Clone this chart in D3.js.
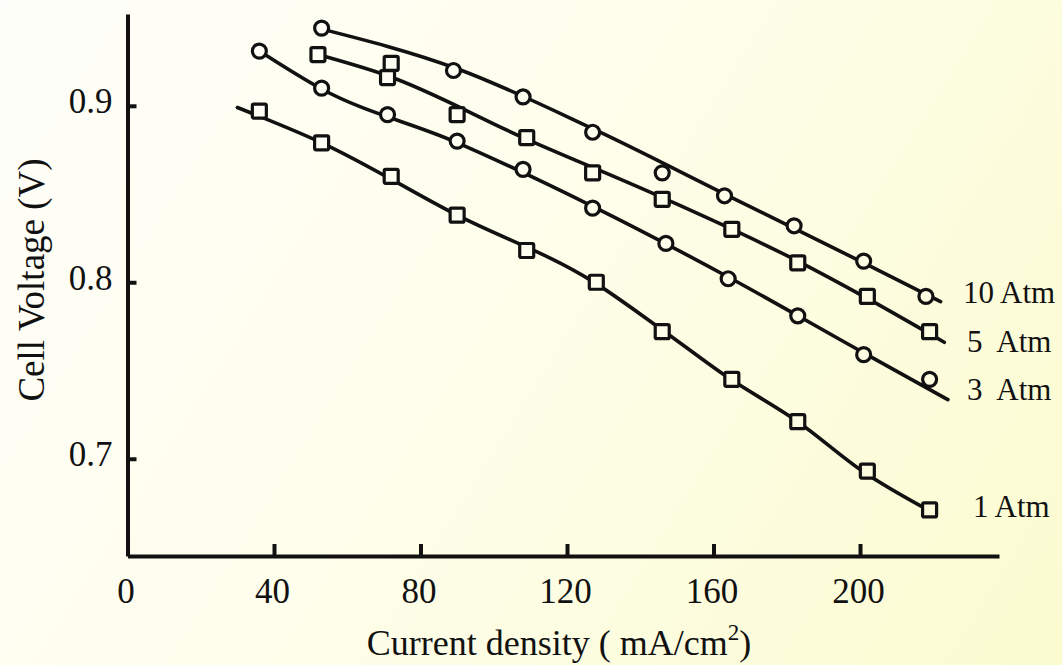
<!DOCTYPE html>
<html>
<head>
<meta charset="utf-8">
<script src="https://cdn.jsdelivr.net/npm/d3@7"></script>
<style>
  html, body { margin: 0; padding: 0; background: #fefef6; }
  svg { display: block; font-family: "Liberation Serif", "Times New Roman", serif; }
</style>
</head>
<body>
<svg id="chart" width="1062" height="665"></svg>
<script>
// measured points (x: mA/cm2, y: V)
const j10 = [53, 89, 108, 127, 146, 163, 182, 201, 218];
const v10 = [0.944, 0.920, 0.905, 0.885, 0.862, 0.849, 0.832, 0.812, 0.792];
const j5 = [52, 72, 71, 90, 109, 127, 146, 165, 183, 202, 219];
const v5 = [0.929, 0.924, 0.916, 0.895, 0.882, 0.862, 0.847, 0.830, 0.811, 0.792, 0.772];
const j3 = [36, 53, 71, 90, 108, 127, 147, 164, 183, 201, 219];
const v3 = [0.931, 0.910, 0.895, 0.880, 0.864, 0.842, 0.822, 0.802, 0.781, 0.759, 0.745];
const j1 = [36, 53, 72, 90, 109, 128, 146, 165, 183, 202, 219];
const v1 = [0.897, 0.879, 0.860, 0.838, 0.818, 0.800, 0.772, 0.745, 0.721, 0.693, 0.671];

// fitted curves drawn through the points
const fitJ10 = [52, 90, 127, 164, 201, 222];
const fitV10 = [0.944, 0.921, 0.887, 0.849, 0.811, 0.789];
const fitJ5 = [52, 71, 108, 146, 183, 201, 223];
const fitV5 = [0.929, 0.917, 0.882, 0.848, 0.812, 0.792, 0.766];
const fitJ3 = [36, 53, 89, 127, 164, 201, 224];
const fitV3 = [0.931, 0.9095, 0.880, 0.843, 0.803, 0.760, 0.7335];
const fitJ1 = [30, 53, 90, 127, 146, 164, 183, 201, 219];
const fitV1 = [0.899, 0.879, 0.838, 0.8005, 0.773, 0.746, 0.721, 0.6925, 0.6705];

const seriesNames = ["10 Atm", "5  Atm", "3  Atm", "1 Atm"];
const xTicks = [0, 40, 80, 120, 160, 200];
const yTicks = [0.7, 0.8, 0.9];

const ink = "#111";
const margin = {top: 14, left: 127.5};
const width = 871.5, height = 542;

const svg = d3.select("#chart");
const defs = svg.append("defs");
const grad = defs.append("linearGradient")
    .attr("id", "paper")
    .attr("gradientUnits", "userSpaceOnUse")
    .attr("x1", 0).attr("y1", 0).attr("x2", 1062).attr("y2", 665);
grad.append("stop").attr("offset", "0%").attr("stop-color", "#fefefa");
grad.append("stop").attr("offset", "45%").attr("stop-color", "#fefeec");
grad.append("stop").attr("offset", "100%").attr("stop-color", "#fbfbd0");

svg.append("rect").attr("width", 1062).attr("height", 665).attr("fill", "url(#paper)");

const x = d3.scaleLinear().domain([0, 237.95]).range([0, width]);
const y = d3.scaleLinear().domain([0.6449, 0.952]).range([height, 0]);

const g = svg.append("g").attr("transform", "translate(" + margin.left + "," + margin.top + ")");

// x axis, ticks pointing inward
const xAxis = g.append("g")
    .attr("transform", "translate(0," + height + ")")
    .call(d3.axisBottom(x).tickValues(xTicks).tickSizeInner(-12).tickSizeOuter(0).tickFormat(d3.format("d")));
xAxis.select(".domain").attr("stroke", ink).attr("stroke-width", 4);
xAxis.selectAll(".tick line").attr("stroke", ink).attr("stroke-width", 4)
    .filter(d => d === 0).remove();
xAxis.selectAll(".tick text")
    .attr("y", 47).attr("dy", 0).attr("dx", -2)
    .style("font-size", "35px").style("font-family", "Liberation Serif").attr("fill", ink);

// y axis
const yAxis = g.append("g")
    .call(d3.axisLeft(y).tickValues(yTicks).tickSizeInner(-9).tickSizeOuter(0).tickFormat(d3.format(".1f")));
yAxis.select(".domain").attr("stroke", ink).attr("stroke-width", 4);
yAxis.selectAll(".tick line").attr("stroke", ink).attr("stroke-width", 4);
yAxis.selectAll(".tick text")
    .attr("x", -15).attr("dy", 0).attr("y", 7)
    .style("font-size", "35px").style("font-family", "Liberation Serif").attr("fill", ink);

const line = d3.line().x(d => x(d[0])).y(d => y(d[1])).curve(d3.curveMonotoneX);

const fits = [[fitJ10, fitV10], [fitJ5, fitV5], [fitJ3, fitV3], [fitJ1, fitV1]];
fits.forEach(f => {
  g.append("path")
    .datum(d3.zip(f[0], f[1]))
    .attr("d", line)
    .attr("fill", "none")
    .attr("stroke", ink)
    .attr("stroke-width", 3.6)
    .attr("stroke-linecap", "round");
});

const pts = [
  {j: j10, v: v10, shape: "circle"},
  {j: j5, v: v5, shape: "square"},
  {j: j3, v: v3, shape: "circle"},
  {j: j1, v: v1, shape: "square"}
];
pts.forEach(s => {
  const data = d3.zip(s.j, s.v);
  if (s.shape === "circle") {
    g.selectAll(null).data(data).enter().append("circle")
      .attr("cx", d => x(d[0])).attr("cy", d => y(d[1])).attr("r", 7)
      .attr("fill", "url(#paper)").attr("stroke", ink).attr("stroke-width", 3.2);
  } else {
    g.selectAll(null).data(data).enter().append("rect")
      .attr("x", d => x(d[0]) - 7).attr("y", d => y(d[1]) - 7)
      .attr("width", 14).attr("height", 14).attr("rx", 1.5)
      .attr("fill", "url(#paper)").attr("stroke", ink).attr("stroke-width", 3.2);
  }
});

// series labels at the right end of each curve
const labelPos = [[963, 303], [967, 352], [967, 400], [973, 517]];
svg.selectAll(".slabel").data(seriesNames).enter().append("text")
    .attr("class", "slabel")
    .attr("x", (d, i) => labelPos[i][0])
    .attr("y", (d, i) => labelPos[i][1])
    .attr("xml:space", "preserve")
    .style("white-space", "pre")
    .style("font-size", "31px")
    .attr("fill", ink)
    .text(d => d);

// axis titles
const xt = svg.append("text")
    .attr("x", 559).attr("y", 655)
    .attr("text-anchor", "middle")
    .style("font-size", "36px")
    .attr("fill", ink);
xt.append("tspan").text("Current density ( mA/cm");
xt.append("tspan").attr("dy", -15).style("font-size", "23px").text("2");
xt.append("tspan").attr("dy", 15).text(")");

svg.append("text")
    .attr("transform", "translate(44,280) rotate(-90)")
    .attr("text-anchor", "middle")
    .style("font-size", "37px")
    .attr("fill", ink)
    .text("Cell Voltage (V)");
</script>
</body>
</html>
